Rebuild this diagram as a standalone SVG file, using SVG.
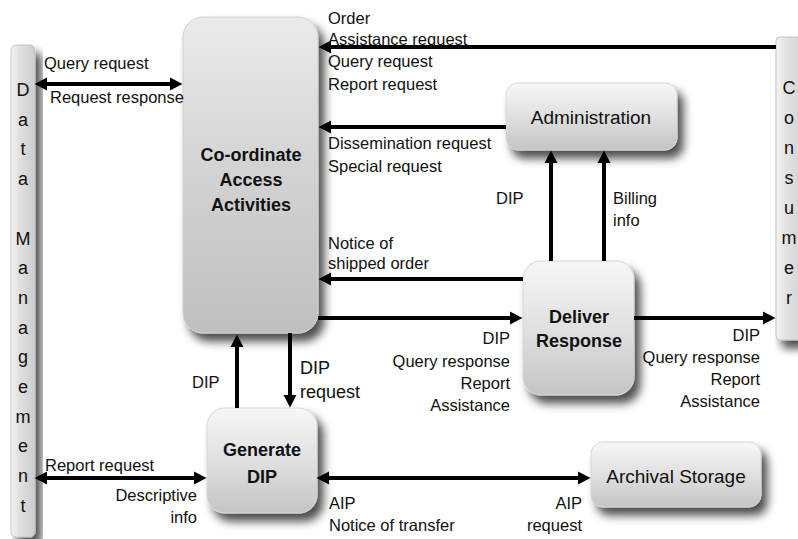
<svg xmlns="http://www.w3.org/2000/svg" width="798" height="539" viewBox="0 0 798 539">
  <defs>
    <linearGradient id="gNode" x1="0" y1="0" x2="0" y2="1">
      <stop offset="0" stop-color="#f7f7f7"/>
      <stop offset="0.5" stop-color="#e0e0e0"/>
      <stop offset="1" stop-color="#c4c4c4"/>
    </linearGradient>
    <linearGradient id="gBig" x1="0" y1="0" x2="0" y2="1">
      <stop offset="0" stop-color="#eaeaea"/>
      <stop offset="0.5" stop-color="#d2d2d2"/>
      <stop offset="1" stop-color="#bfbfbf"/>
    </linearGradient>
    <linearGradient id="gBar" x1="0" y1="0" x2="1" y2="0">
      <stop offset="0" stop-color="#f4f4f4"/>
      <stop offset="0.3" stop-color="#e2e2e2"/>
      <stop offset="1" stop-color="#cccccc"/>
    </linearGradient>
    <filter id="shadow" x="-20%" y="-20%" width="150%" height="150%">
      <feGaussianBlur in="SourceAlpha" stdDeviation="5"/>
      <feOffset dx="6" dy="8" result="b"/>
      <feComponentTransfer><feFuncA type="linear" slope="0.7"/></feComponentTransfer>
      <feMerge><feMergeNode/><feMergeNode in="SourceGraphic"/></feMerge>
    </filter>
    <marker id="ah" viewBox="0 -7 13 14" refX="1" refY="0" markerWidth="13" markerHeight="14" markerUnits="userSpaceOnUse" orient="auto-start-reverse">
      <path d="M0,-6.5 L12.5,0 L0,6.5 z" fill="#000"/>
    </marker>
  </defs>
  <style>
    text { font-family: "Liberation Sans", Arial, sans-serif; fill: #111; }
    .lbl { font-size: 16.5px; }
    .lbl2 { font-size: 18px; }
    .nt { font-size: 19px; text-anchor: middle; }
    .nb { font-size: 18px; font-weight: bold; text-anchor: middle; }
    .vt { font-size: 18px; text-anchor: middle; }
    .r { text-anchor: end; }
    .node { fill: url(#gNode); stroke: #d6d6d6; stroke-width: 1; filter: url(#shadow); }
    .big { fill: url(#gBig); stroke: #d0d0d0; stroke-width: 1; filter: url(#shadow); }
    .bar { fill: url(#gBar); stroke: #c4c4c4; stroke-width: 1; filter: url(#shadow); }
    .c { fill: none; stroke: #000; stroke-width: 4; }
    .e { marker-end: url(#ah); }
    .b { marker-start: url(#ah); marker-end: url(#ah); }
  </style>

  <rect width="798" height="539" fill="#ffffff"/>

  <!-- external entity: Data Management -->
  <g id="data-management">
    <rect class="bar" x="11" y="45" width="24" height="492" rx="5"/>
    <text class="vt" x="23" y="96">D<tspan x="23" dy="29.7">a</tspan><tspan x="23" dy="29.7">t</tspan><tspan x="23" dy="29.7">a</tspan><tspan x="23" dy="59.4">M</tspan><tspan x="23" dy="29.7">a</tspan><tspan x="23" dy="29.7">n</tspan><tspan x="23" dy="29.7">a</tspan><tspan x="23" dy="29.7">g</tspan><tspan x="23" dy="29.7">e</tspan><tspan x="23" dy="29.7">m</tspan><tspan x="23" dy="29.7">e</tspan><tspan x="23" dy="29.7">n</tspan><tspan x="23" dy="29.7">t</tspan></text>
  </g>

  <!-- external entity: Consumer -->
  <g id="consumer">
    <rect class="bar" x="776" y="37" width="34" height="303" rx="4"/>
    <text class="vt" x="789" y="94">C<tspan x="789" dy="30">o</tspan><tspan x="789" dy="30">n</tspan><tspan x="789" dy="30">s</tspan><tspan x="789" dy="30">u</tspan><tspan x="789" dy="30">m</tspan><tspan x="789" dy="30">e</tspan><tspan x="789" dy="30">r</tspan></text>
  </g>

  <!-- processes -->
  <g id="coordinate-access">
    <rect class="big" x="183" y="17" width="135" height="316" rx="20"/>
    <text class="nb" x="251" y="161">Co-ordinate</text>
    <text class="nb" x="251" y="186">Access</text>
    <text class="nb" x="251" y="211">Activities</text>
  </g>

  <g id="administration">
    <rect class="node" x="506" y="83" width="171" height="67" rx="12"/>
    <text class="nt" x="591" y="124">Administration</text>
  </g>

  <g id="deliver-response">
    <rect class="node" x="523" y="261" width="111" height="134" rx="18"/>
    <text class="nb" x="579" y="323">Deliver</text>
    <text class="nb" x="579" y="347">Response</text>
  </g>

  <g id="generate-dip">
    <rect class="node" x="207" y="408" width="110" height="105" rx="18"/>
    <text class="nb" x="262" y="456">Generate</text>
    <text class="nb" x="262" y="483">DIP</text>
  </g>

  <g id="archival-storage">
    <rect class="node" x="591" y="442" width="170" height="65" rx="12"/>
    <text class="nt" x="676" y="483">Archival Storage</text>
  </g>

  <!-- data flows -->
  <g id="connectors">
    <path class="c b" d="M46 84 H171"/>
    <path class="c e" d="M776 47 H330"/>
    <path class="c e" d="M506 127 H330"/>
    <path class="c e" d="M551 261 V162"/>
    <path class="c e" d="M604 261 V162"/>
    <path class="c e" d="M523 279 H330"/>
    <path class="c e" d="M318 318 H511"/>
    <path class="c e" d="M634 318 H764"/>
    <path class="c e" d="M237 408 V346"/>
    <path class="c e" d="M290 333 V396"/>
    <path class="c b" d="M46 478 H195"/>
    <path class="c b" d="M328 478 H579"/>
  </g>

  <!-- flow labels -->
  <g id="labels">
    <text class="lbl" x="44" y="69">Query request</text>
    <text class="lbl" x="50" y="103">Request response</text>

    <text class="lbl" x="328" y="24">Order</text>
    <text class="lbl" x="328" y="45">Assistance request</text>
    <text class="lbl" x="328" y="67">Query request</text>
    <text class="lbl" x="328" y="90">Report request</text>

    <text class="lbl" x="328" y="149">Dissemination request</text>
    <text class="lbl" x="328" y="172">Special request</text>

    <text class="lbl" x="496" y="204">DIP</text>
    <text class="lbl" x="613" y="204">Billing</text>
    <text class="lbl" x="613" y="226">info</text>

    <text class="lbl" x="328" y="249">Notice of</text>
    <text class="lbl" x="328" y="269">shipped order</text>

    <text class="lbl r" x="510" y="344">DIP</text>
    <text class="lbl r" x="510" y="367">Query response</text>
    <text class="lbl r" x="510" y="389">Report</text>
    <text class="lbl r" x="510" y="411">Assistance</text>

    <text class="lbl r" x="760" y="341">DIP</text>
    <text class="lbl r" x="760" y="363">Query response</text>
    <text class="lbl r" x="760" y="385">Report</text>
    <text class="lbl r" x="760" y="407">Assistance</text>

    <text class="lbl" x="192" y="388">DIP</text>
    <text class="lbl2" x="300" y="374">DIP</text>
    <text class="lbl2" x="300" y="398">request</text>

    <text class="lbl" x="45" y="471">Report request</text>
    <text class="lbl r" x="197" y="501">Descriptive</text>
    <text class="lbl r" x="197" y="523">info</text>

    <text class="lbl" x="329" y="509">AIP</text>
    <text class="lbl" x="329" y="531">Notice of transfer</text>
    <text class="lbl r" x="582" y="509">AIP</text>
    <text class="lbl r" x="582" y="531">request</text>
  </g>
</svg>
